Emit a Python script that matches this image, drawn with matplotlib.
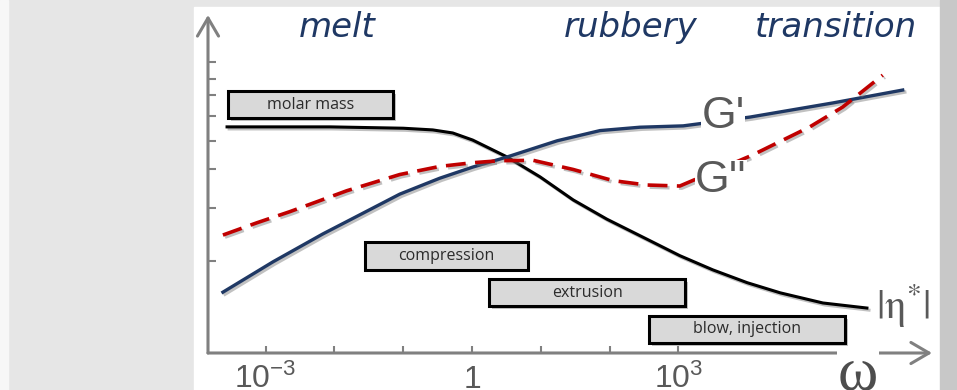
import numpy as np
import matplotlib.pyplot as plt
import matplotlib.patheffects as pe
from matplotlib.patches import Rectangle

# schematic values: log10(omega) vs arbitrary level
eta_logw = [-3.56, -2.06, -1.0, -0.57, -0.28, 0.01, 0.51, 0.99, 1.47, 1.96, 2.54, 3.02, 3.50, 4.0, 4.48, 5.10, 5.74]
eta_val = [6.69, 6.69, 6.65, 6.60, 6.51, 6.30, 5.80, 5.21, 4.53, 3.96, 3.37, 2.88, 2.46, 2.08, 1.78, 1.48, 1.33]

gp_logw = [-3.62, -2.89, -2.17, -1.6, -1.05, -0.47, 0.01, 0.51, 1.24, 1.86, 2.44, 3.07, 4.04, 5.25, 6.26]
gp_val = [1.80, 2.70, 3.52, 4.12, 4.70, 5.17, 5.50, 5.80, 6.28, 6.58, 6.68, 6.72, 6.98, 7.40, 7.78]

gpp_logw = [-3.62, -3.13, -2.65, -1.82, -1.05, -0.47, 0.01, 0.41, 0.89, 1.47, 2.05, 2.54, 3.02, 4.08, 4.91, 5.39, 5.97]
gpp_val = [3.49, 3.85, 4.18, 4.80, 5.28, 5.52, 5.63, 5.69, 5.70, 5.43, 5.10, 4.97, 4.94, 5.86, 6.69, 7.28, 8.22]

# processing windows
proc_names = ['molar mass', 'compression', 'extrusion', 'blow, injection']
proc_lo = [-3.55, -1.56, 0.25, 2.57]
proc_hi = [-1.15, 0.81, 3.10, 5.42]
proc_y = [7.35, 2.87, 1.78, 0.70]

region_names = ['melt', 'rubbery', 'transition']
region_logw = [-1.96, 2.31, 5.29]

xtick_logw = [-3, -2, -1, 0, 1, 2, 3]
xtick_labels = ['$10^{-3}$', '', '', '$1$', '', '', '$10^{3}$']
ytick_vals = [8.61, 8.11, 7.63, 7.01, 6.27, 5.44, 4.29, 2.72]

navy = '#1f3864'
red = '#c00000'
gray = '#808080'
txtgray = '#595959'

plt.rcParams['mathtext.fontset'] = 'custom'
plt.rcParams['mathtext.rm'] = 'Liberation Sans'
plt.rcParams['mathtext.it'] = 'Liberation Sans:italic'

fig = plt.figure(figsize=(9.57, 3.9), dpi=100)
fig.patch.set_facecolor('#e6e6e6')
fig.patches.append(Rectangle((0, 0), 8/957, 1, transform=fig.transFigure, color='#f7f7f7', zorder=-5))
fig.patches.append(Rectangle((194/957, 0), 746/957, 383/390, transform=fig.transFigure, color='white', zorder=-5))
fig.patches.append(Rectangle((940/957, 0), 17/957, 1, transform=fig.transFigure, color='#c8c8c8', zorder=-5))

ax = fig.add_axes([208/957, 37/390, 724/957, 338/390])
ax.set_facecolor('none')
ax.set_xscale('log')
ax.set_xlim(10**-3.837, 10**6.686)
ax.set_ylim(0, 10)
for s in ax.spines.values():
    s.set_visible(False)

shadow = [pe.SimpleLineShadow(offset=(1.5, -1.5), shadow_color='#777777', alpha=0.45), pe.Normal()]

ax.plot(10**np.array(eta_logw), eta_val, color='black', lw=2.2, path_effects=shadow, zorder=3)
ax.plot(10**np.array(gp_logw), gp_val, color=navy, lw=2.4, path_effects=shadow, zorder=3)
ax.plot(10**np.array(gpp_logw), gpp_val, color=red, lw=2.6, dashes=(5.5, 2.6), path_effects=shadow, zorder=3)

# process boxes
lo = 10**np.array(proc_lo)
hi = 10**np.array(proc_hi)
bars = ax.barh(proc_y, hi - lo, left=lo, height=0.8, color='#d9d9d9', edgecolor='black', lw=2.2, zorder=4)
for b in bars:
    b.set_path_effects([pe.SimplePatchShadow(offset=(2, -2), shadow_rgbFace='#888888', alpha=0.5), pe.Normal()])
for name, l, h, y in zip(proc_names, lo, hi, proc_y):
    ax.text(np.sqrt(l*h), y, name, ha='center', va='center', fontsize=11.5, family='Open Sans', color='#2b2b2b', zorder=5)

for name, x in zip(region_names, region_logw):
    ax.text(10**x, 9.62, name, ha='center', va='center', fontsize=24.5, style='italic', family='DejaVu Sans', color=navy)

# curve labels
lbl = dict(family='Liberation Sans', fontsize=32, color=txtgray, ha='center', va='center', zorder=6,
           bbox=dict(facecolor='white', edgecolor='none', pad=0))
ax.text(10**3.65, 7.01, "G'", **lbl)
ax.text(10**3.62, 5.09, "G''", **lbl)
ax.text(10**6.27, 1.39, r'$|\mathrm{\eta}^{*}|$', math_fontfamily='stix', fontsize=30, color=txtgray,
        ha='center', va='center', zorder=6, bbox=dict(facecolor='white', edgecolor='none', pad=0))
ax.text(10**5.61, -0.65, 'ω', family='Liberation Serif', fontsize=44, color='#4d4d4d', ha='center', va='center',
        zorder=6, clip_on=False, bbox=dict(facecolor='white', edgecolor='none', pad=1))

# axes with arrows
arrow = dict(arrowstyle='->,head_length=0.65,head_width=0.38', lw=2.2, color=gray, mutation_scale=20, shrinkA=0, shrinkB=0)
ax.annotate('', xy=(1, 0), xytext=(0, 0), xycoords='axes fraction', arrowprops=arrow, zorder=2)
ax.annotate('', xy=(0, 1), xytext=(0, 0), xycoords='axes fraction', arrowprops=arrow, zorder=2)

ax.set_xticks([10.0**k for k in xtick_logw])
ax.set_xticklabels(xtick_labels)
ax.xaxis.set_minor_locator(plt.NullLocator())
ax.set_yticks(ytick_vals)
ax.set_yticklabels([])
ax.tick_params(axis='x', direction='in', length=5, width=1.5, color=gray, labelsize=23, labelcolor=txtgray, pad=8)
ax.tick_params(axis='y', direction='in', length=6, width=1.5, color=gray)

fig.savefig('out.png', dpi=100, facecolor=fig.get_facecolor())
